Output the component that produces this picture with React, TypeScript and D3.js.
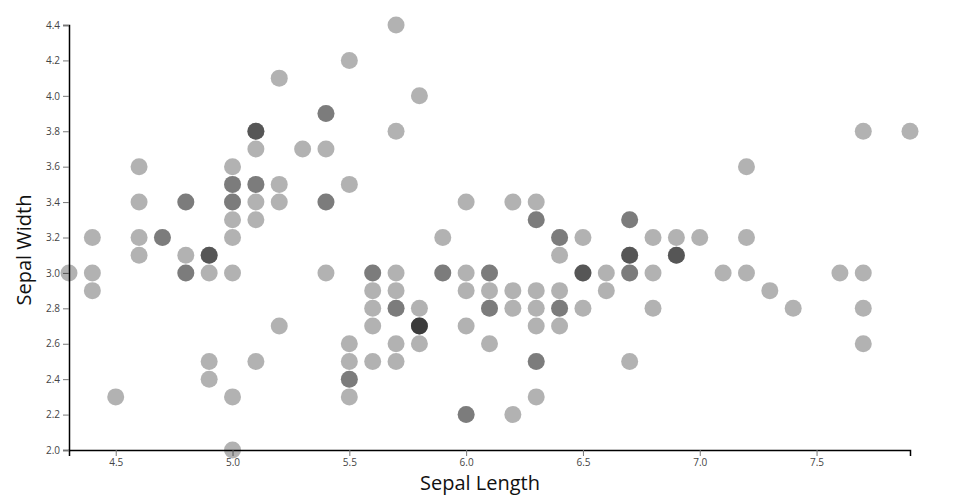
import React, { useEffect, useRef } from "react";
import * as d3 from "d3";

const sepalLength: number[] = [
  5.1, 4.9, 4.7, 4.6, 5.0, 5.4, 4.6, 5.0, 4.4, 4.9, 5.4, 4.8, 4.8, 4.3, 5.8, 5.7, 5.4, 5.1, 5.7, 5.1,
  5.4, 5.1, 4.6, 5.1, 4.8, 5.0, 5.0, 5.2, 5.2, 4.7, 4.8, 5.4, 5.2, 5.5, 4.9, 5.0, 5.5, 4.9, 4.4, 5.1,
  5.0, 4.5, 4.4, 5.0, 5.1, 4.8, 5.1, 4.6, 5.3, 5.0,
  7.0, 6.4, 6.9, 5.5, 6.5, 5.7, 6.3, 4.9, 6.6, 5.2, 5.0, 5.9, 6.0, 6.1, 5.6, 6.7, 5.6, 5.8, 6.2, 5.6,
  5.9, 6.1, 6.3, 6.1, 6.4, 6.6, 6.8, 6.7, 6.0, 5.7, 5.5, 5.5, 5.8, 6.0, 5.4, 6.0, 6.7, 6.3, 5.6, 5.5,
  5.5, 6.1, 5.8, 5.0, 5.6, 5.7, 5.7, 6.2, 5.1, 5.7,
  6.3, 5.8, 7.1, 6.3, 6.5, 7.6, 4.9, 7.3, 6.7, 7.2, 6.5, 6.4, 6.8, 5.7, 5.8, 6.4, 6.5, 7.7, 7.7, 6.0,
  6.9, 5.6, 7.7, 6.3, 6.7, 7.2, 6.2, 6.1, 6.4, 7.2, 7.4, 7.9, 6.4, 6.3, 6.1, 7.7, 6.3, 6.4, 6.0, 6.9,
  6.7, 6.9, 5.8, 6.8, 6.7, 6.7, 6.3, 6.5, 6.2, 5.9,
];

const sepalWidth: number[] = [
  3.5, 3.0, 3.2, 3.1, 3.6, 3.9, 3.4, 3.4, 2.9, 3.1, 3.7, 3.4, 3.0, 3.0, 4.0, 4.4, 3.9, 3.5, 3.8, 3.8,
  3.4, 3.7, 3.6, 3.3, 3.4, 3.0, 3.4, 3.5, 3.4, 3.2, 3.1, 3.4, 4.1, 4.2, 3.1, 3.2, 3.5, 3.1, 3.0, 3.4,
  3.5, 2.3, 3.2, 3.5, 3.8, 3.0, 3.8, 3.2, 3.7, 3.3,
  3.2, 3.2, 3.1, 2.3, 2.8, 2.8, 3.3, 2.4, 2.9, 2.7, 2.0, 3.0, 2.2, 2.9, 2.9, 3.1, 3.0, 2.7, 2.2, 2.5,
  3.2, 2.8, 2.5, 2.8, 2.9, 3.0, 2.8, 3.0, 2.9, 2.6, 2.4, 2.4, 2.7, 2.7, 3.0, 3.4, 3.1, 2.3, 3.0, 2.5,
  2.6, 3.0, 2.6, 2.3, 2.7, 3.0, 2.9, 2.9, 2.5, 2.8,
  3.3, 2.7, 3.0, 2.9, 3.0, 3.0, 2.5, 2.9, 2.5, 3.6, 3.2, 2.7, 3.0, 2.5, 2.8, 3.2, 3.0, 3.8, 2.6, 2.2,
  3.2, 2.8, 2.8, 2.7, 3.3, 3.2, 2.8, 3.0, 2.8, 3.0, 2.8, 3.8, 2.8, 2.8, 2.6, 3.0, 3.4, 3.1, 3.0, 3.1,
  3.1, 3.1, 2.7, 3.2, 3.3, 3.0, 2.5, 3.0, 3.4, 3.0,
];

const xTicks: number[] = [4.5, 5.0, 5.5, 6.0, 6.5, 7.0, 7.5];
const yTicks: number[] = [2.0, 2.2, 2.4, 2.6, 2.8, 3.0, 3.2, 3.4, 3.6, 3.8, 4.0, 4.2, 4.4];
const xLabel = "Sepal Length";
const yLabel = "Sepal Width";

const W = 960;
const H = 500;
const M = { left: 69, right: 50, top: 25, bottom: 50 };

export default function App() {
  const ref = useRef<SVGSVGElement>(null);

  useEffect(() => {
    const svg = d3.select(ref.current);
    svg.selectAll("*").remove();

    const x = d3.scaleLinear().domain([4.3, 7.9]).range([M.left, W - M.right]);
    const y = d3.scaleLinear().domain([2.0, 4.4]).range([H - M.bottom, M.top]);

    const data = sepalLength.map((v, i) => ({ x: v, y: sepalWidth[i] }));

    const font = "'Open Sans', sans-serif";

    const gx = svg
      .append("g")
      .attr("transform", `translate(0,${H - M.bottom})`)
      .call(d3.axisBottom(x).tickValues(xTicks).tickFormat(d3.format(".1f")));
    const gy = svg
      .append("g")
      .attr("transform", `translate(${M.left},0)`)
      .call(d3.axisLeft(y).tickValues(yTicks).tickFormat(d3.format(".1f")));

    [gx, gy].forEach((g) => {
      g.attr("font-family", font).attr("font-size", 10);
      g.selectAll(".tick text").attr("fill", "#444");
      g.selectAll(".tick line").attr("stroke", "#777");
      g.select(".domain").attr("stroke", "#000").attr("stroke-width", 1.5);
    });

    svg
      .append("g")
      .selectAll("circle")
      .data(data)
      .join("circle")
      .attr("cx", (d) => x(d.x))
      .attr("cy", (d) => y(d.y))
      .attr("r", 8.5)
      .attr("fill", "#000")
      .attr("fill-opacity", 0.3);

    svg
      .append("text")
      .attr("x", 480)
      .attr("y", 490)
      .attr("text-anchor", "middle")
      .attr("font-family", font)
      .attr("font-size", 20)
      .attr("fill", "#111")
      .text(xLabel);

    svg
      .append("text")
      .attr("transform", `translate(31,250) rotate(-90)`)
      .attr("text-anchor", "middle")
      .attr("font-family", font)
      .attr("font-size", 20)
      .attr("fill", "#111")
      .text(yLabel);
  }, []);

  return (
    <svg
      ref={ref}
      width={W}
      height={H}
      style={{ position: "absolute", left: 0, top: 0, background: "#fff" }}
    />
  );
}
